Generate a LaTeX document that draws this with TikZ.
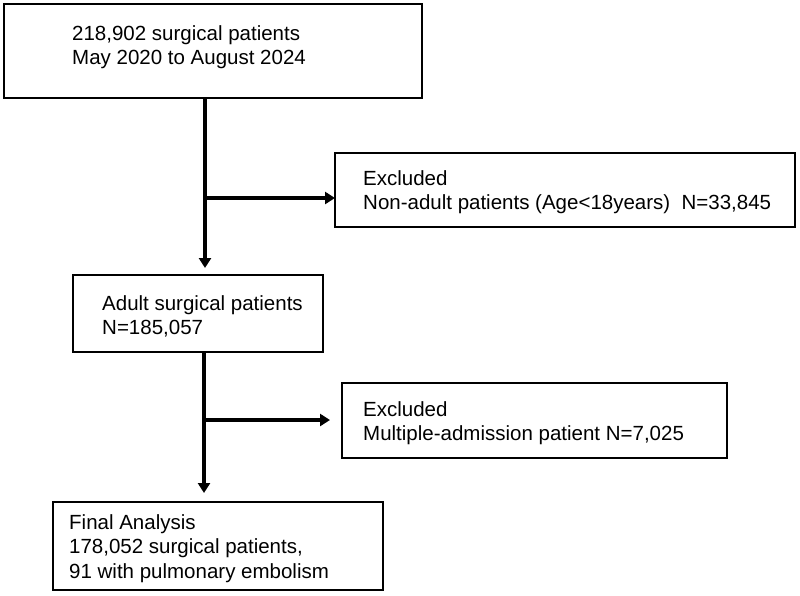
\documentclass[tikz,border=0pt]{standalone}
\usepackage{fontspec}
\setmainfont{Liberation Sans}
\usetikzlibrary{arrows.meta,calc}
\newcommand\boxlines[1]{\begin{tabular}[t]{@{}l@{}}#1\end{tabular}}
\begin{document}
\begin{tikzpicture}[x=1pt,y=-1pt,
  box/.style={draw, line width=2.2pt, anchor=north west, inner sep=0pt, outer sep=0pt},
  txt/.style={anchor=base west, inner sep=0pt, font=\fontsize{20.5}{24.5}\selectfont},
  conn/.style={line width=4pt, -{Triangle[length=10pt,width=12pt]}}]
\fill[white] (0,0) rectangle (800,595);
\path[use as bounding box] (0,0) rectangle (800,595);
% boxes
\node[box, minimum width=418pt, minimum height=94pt] (b1) at (4,4) {};
\node[box, minimum width=460pt, minimum height=74pt] (ex1) at (335,153) {};
\node[box, minimum width=250pt, minimum height=77pt] (b2) at (73,275) {};
\node[box, minimum width=385pt, minimum height=75pt] (ex2) at (342,383) {};
\node[box, minimum width=330pt, minimum height=88pt] (b3) at (53,502) {};
% texts
\node[txt] (t1) at (72,40) {\boxlines{218,902 surgical patients\\May 2020 to August 2024}};
\node[txt] (tex1) at (363,185) {\boxlines{Excluded\\Non-adult patients (Age<18years)\ \ N=33,845}};
\node[txt] (t2) at (102,310) {\boxlines{Adult surgical patients\\N=185,057}};
\node[txt] (tex2) at (363,416) {\boxlines{Excluded\\Multiple-admission patient N=7,025}};
\node[txt] (t3) at (69,529) {\boxlines{Final Analysis\\178,052 surgical patients,\\91 with pulmonary embolism}};
% connectors
\coordinate (j1) at (205,198);
\coordinate (j2) at (204,420);
\draw[conn, shorten >=7pt] (b1.south -| j1) -- (b2.north -| j1);
\draw[conn] (j1) -- (j1 -| ex1.west);
\draw[conn, shorten >=9pt] (b2.south -| j2) -- (b3.north -| j2);
\draw[conn, shorten >=12pt] (j2) -- (j2 -| ex2.west);
\end{tikzpicture}
\end{document}
